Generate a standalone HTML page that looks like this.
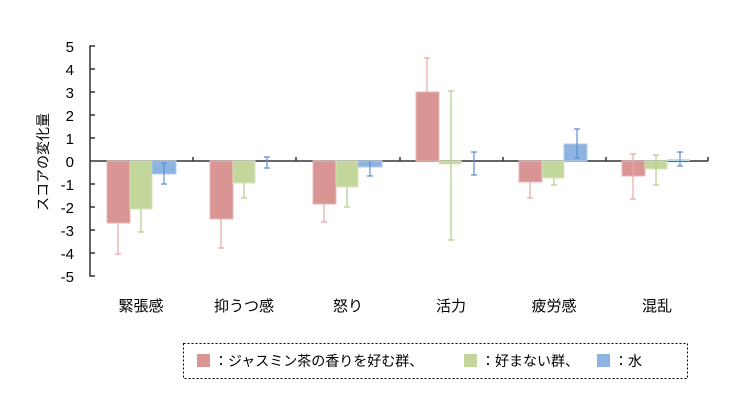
<!DOCTYPE html><html><head><meta charset="utf-8"><style>body{margin:0;background:#fff}svg{display:block}text{font-family:"Liberation Sans","Noto Sans CJK JP",sans-serif}</style></head><body>
<svg width="744" height="400" xmlns="http://www.w3.org/2000/svg">
<g font-size="15" fill="#000" text-anchor="end">
<text x="74" y="52">5</text><text x="74" y="75">4</text><text x="74" y="98">3</text><text x="74" y="121">2</text><text x="74" y="144">1</text><text x="74" y="167">0</text><text x="74" y="190">-1</text><text x="74" y="213">-2</text><text x="74" y="236">-3</text><text x="74" y="259">-4</text><text x="74" y="282">-5</text>
</g>
<text transform="translate(48,162) rotate(-90)" font-size="14" text-anchor="middle">スコアの変化量</text>
<g stroke="#333" stroke-width="1.5" fill="none">
<path d="M95,46H90V276H95"/>
<path d="M90,69H95M90,92H95M90,115H95M90,138H95M90,184H95M90,207H95M90,230H95M90,253H95"/>
<path d="M90,161H708M193,157V161M296,157V161M400,157V161M503,157V161M606,157V161M708,157V161"/>
</g>
<g stroke-width="1">
<!-- g1 -->
<rect x="107" y="161" width="23" height="62" fill="#d99594" stroke="#e6b9b8"/>
<rect x="130" y="161" width="22" height="48" fill="#c3d69b" stroke="#d7e4bd"/>
<rect x="152" y="161" width="24" height="13" fill="#8db3e2" stroke="#b9cde5"/>
<rect x="210" y="161" width="23" height="58" fill="#d99594" stroke="#e6b9b8"/>
<rect x="233" y="161" width="22" height="22" fill="#c3d69b" stroke="#d7e4bd"/>
<rect x="313" y="161" width="23" height="43" fill="#d99594" stroke="#e6b9b8"/>
<rect x="336" y="161" width="22" height="26" fill="#c3d69b" stroke="#d7e4bd"/>
<rect x="358" y="161" width="24" height="6" fill="#8db3e2" stroke="#b9cde5"/>
<rect x="416" y="92" width="23" height="69" fill="#d99594" stroke="#e6b9b8"/>
<rect x="439" y="161" width="22" height="3" fill="#c3d69b" stroke="#d7e4bd"/>
<rect x="519" y="161" width="23" height="21" fill="#d99594" stroke="#e6b9b8"/>
<rect x="542" y="161" width="22" height="17" fill="#c3d69b" stroke="#d7e4bd"/>
<rect x="564" y="144" width="23" height="17" fill="#8db3e2" stroke="#b9cde5"/>
<rect x="622" y="161" width="23" height="15" fill="#d99594" stroke="#e6b9b8"/>
<rect x="645" y="161" width="22" height="8" fill="#c3d69b" stroke="#d7e4bd"/>
<rect x="667" y="159" width="23" height="2" fill="#b7dde8"/>
</g>
<g stroke="#e6a9a8" stroke-width="1.2">
<path d="M118,223V254M115,254H121M221,219V248M218,248H224M324,204V222M321,222H327M427,92V58M424,58H430M530,182V198M527,198H533M633,161V168M630,168H636M633,161V199M630,199H636M633,161V154M630,154H636"/>
</g>
<g stroke="#b5cc88" stroke-width="1.2">
<path d="M141,209V232M138,232H144M244,183V198M241,198H247M347,187V207M344,207H350M451,91V240M448,91H454M448,240H454M554,178V185M551,185H557M656,155V185M653,155H659M653,185H659"/>
</g>
<g stroke="#5b8fd6" stroke-width="1.2">
<path d="M164,163V184M161,163H167M161,184H167M267,157V168M264,157H270M264,168H270M370,161V176M367,176H373M474,152V175M471,152H477M471,175H477M577,129V158M574,129H580M574,158H580M680,152V166M677,152H683M677,166H683"/>
</g>
<g font-size="15" text-anchor="middle">
<text x="141" y="311">緊張感</text><text x="244" y="311">抑うつ感</text><text x="348" y="311">怒り</text><text x="451" y="311">活力</text><text x="554" y="311">疲労感</text><text x="657" y="311">混乱</text>
</g>
<rect x="183.5" y="343.5" width="504" height="35" fill="none" stroke="#000" stroke-dasharray="2,2"/>
<rect x="197" y="354" width="13" height="13" fill="#d99594"/>
<rect x="464" y="354" width="13" height="13" fill="#c3d69b"/>
<rect x="597" y="354" width="13" height="13" fill="#8db3e2"/>
<g font-size="14">
<text x="214" y="366">：ジャスミン茶の香りを好む群、</text>
<text x="481" y="366">：好まない群、</text>
<text x="614" y="366">：水</text>
</g>
</svg></body></html>
